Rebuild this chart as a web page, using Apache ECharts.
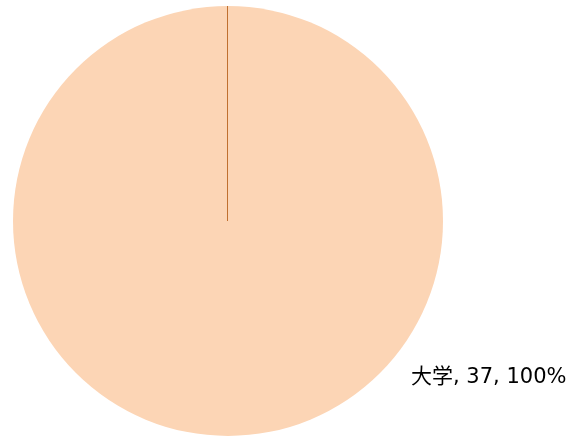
<!DOCTYPE html>
<html>
<head>
<meta charset="utf-8">
<script src="https://cdn.jsdelivr.net/npm/echarts@6/dist/echarts.min.js"></script>
<style>
  html, body { margin: 0; padding: 0; background: #fff; }
  #chart { width: 582px; height: 437px; }
</style>
</head>
<body>
<div id="chart"></div>
<script>
// 数据
const categories = ['大学'];
const values = [37];
const sliceColors = ['#FCD5B5'];

// 饼图布局
const centerX = 228;
const centerY = 221;
const radius = 215;

const chart = echarts.init(document.getElementById('chart'), null, { renderer: 'canvas' });

const total = values.reduce((a, b) => a + b, 0);

chart.setOption({
    animation: false,
    series: [{
        type: 'pie',
        center: [centerX, centerY],
        radius: [0, radius],
        startAngle: 90,
        clockwise: true,
        data: categories.map((name, i) => ({
            name: name,
            value: values[i],
            itemStyle: { color: sliceColors[i] }
        })),
        itemStyle: { borderWidth: 0 },
        label: {
            show: true,
            position: 'outside',
            color: '#000',
            fontSize: 21,
            fontFamily: 'DejaVu Sans, Noto Sans CJK SC, sans-serif',
            formatter: p => `${p.name}, ${p.value}, ${Math.round(p.value / total * 100)}%`
        },
        labelLine: { show: false },
        labelLayout: { x: 411, y: 378, align: 'left', verticalAlign: 'middle' }
    }],
    // 扇区起始边（从圆心到顶部）
    graphic: [{
        type: 'line',
        z: 100,
        shape: { x1: centerX - 0.5, y1: centerY, x2: centerX - 0.5, y2: centerY - radius },
        style: { stroke: '#C0702F', lineWidth: 1 }
    }]
});
</script>
</body>
</html>
